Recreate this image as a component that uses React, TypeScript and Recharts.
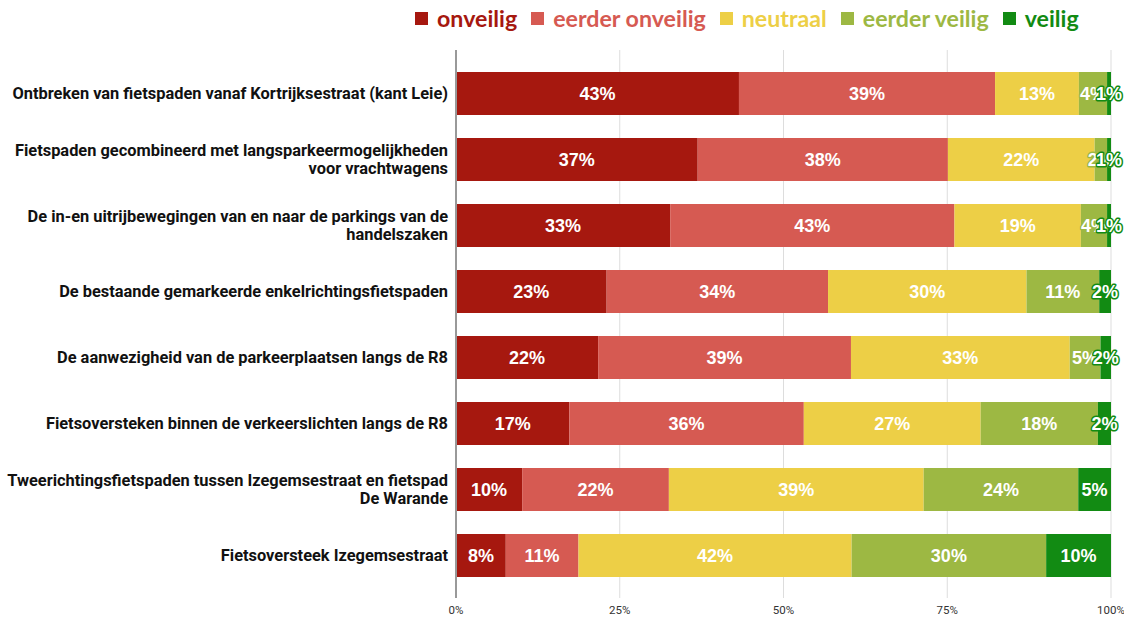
import React from "react";
import { BarChart, Bar, XAxis, YAxis, CartesianGrid, Legend, LabelList } from "recharts";

const categories = [
  "Ontbreken van fietspaden vanaf Kortrijksestraat (kant Leie)",
  "Fietspaden gecombineerd met langsparkeermogelijkheden\nvoor vrachtwagens",
  "De in-en uitrijbewegingen van en naar de parkings van de\nhandelszaken",
  "De bestaande gemarkeerde enkelrichtingsfietspaden",
  "De aanwezigheid van de parkeerplaatsen langs de R8",
  "Fietsoversteken binnen de verkeerslichten langs de R8",
  "Tweerichtingsfietspaden tussen Izegemsestraat en fietspad\nDe Warande",
  "Fietsoversteek Izegemsestraat",
];

const onveilig = [43.2, 36.9, 32.7, 23.0, 21.7, 17.3, 10.1, 7.6];
const eerderOnveilig = [39.1, 38.2, 43.4, 33.8, 38.6, 35.8, 22.4, 11.1];
const neutraal = [12.8, 22.4, 19.3, 30.3, 33.4, 27.0, 38.9, 41.7];
const eerderVeilig = [4.3, 1.9, 4.0, 11.1, 4.7, 17.9, 23.6, 29.7];
const veilig = [0.6, 0.6, 0.6, 1.8, 1.6, 2.0, 5.0, 9.9];

const xTicks = [0, 25, 50, 75, 100];

const seriesNames = ["onveilig", "eerder onveilig", "neutraal", "eerder veilig", "veilig"];
const seriesKeys = ["onveilig", "eerderOnveilig", "neutraal", "eerderVeilig", "veilig"];
const seriesColors = ["#a6180f", "#d65a52", "#edcf46", "#9db843", "#128b13"];
const seriesValues = [onveilig, eerderOnveilig, neutraal, eerderVeilig, veilig];

const data = categories.map((c, i) => {
  const row: any = { category: c };
  seriesKeys.forEach((k, j) => {
    row[k] = seriesValues[j][i];
  });
  return row;
});

const CategoryTick = (props: any) => {
  const { x, y, payload } = props;
  const lines: string[] = String(payload.value).split("\n");
  const lh = 18;
  const start = -((lines.length - 1) * lh) / 2;
  return (
    <text
      x={x}
      y={y}
      textAnchor="end"
      fill="#111"
      fontFamily="Roboto"
      fontWeight={700}
      fontSize={16.4}
    >
      {lines.map((l, i) => (
        <tspan key={i} x={x} y={y + start + i * lh} dy="0.355em">
          {l}
        </tspan>
      ))}
    </text>
  );
};

const makeLabel = (color: string) => (props: any) => {
  const { x, y, width, height, value } = props;
  const cx = Number(x) + Number(width) / 2;
  const cy = Number(y) + Number(height) / 2;
  return (
    <text
      x={cx}
      y={cy}
      dy="0.355em"
      textAnchor="middle"
      fill="#ffffff"
      stroke={color}
      strokeWidth={3}
      strokeLinejoin="round"
      paintOrder="stroke"
      fontFamily="Liberation Sans"
      fontWeight={700}
      fontSize={18}
    >
      {Math.round(Number(value)) + "%"}
    </text>
  );
};

const LegendContent = () => {
  return (
    <div
      style={{
        height: 50,
        display: "flex",
        alignItems: "flex-start",
        paddingLeft: 415,
        paddingTop: 3,
        boxSizing: "border-box",
        fontFamily: "Lato",
        fontWeight: 700,
        fontSize: 23.2,
        lineHeight: "30px",
      }}
    >
      {seriesNames.map((n, i) => (
        <div key={i} style={{ display: "flex", alignItems: "center", marginRight: 14 }}>
          <span
            style={{
              display: "inline-block",
              width: 13,
              height: 13,
              background: seriesColors[i],
              marginRight: 9,
            }}
          />
          <span style={{ color: seriesColors[i] }}>{n}</span>
        </div>
      ))}
    </div>
  );
};

export default function App() {
  return (
    <div style={{ position: "absolute", left: 0, top: 0, background: "#fff" }}>
      <BarChart
        width={1124}
        height={617}
        data={data}
        layout="vertical"
        margin={{ top: 0, right: 13, bottom: 0, left: 0 }}
        barSize={43}
      >
        <Legend verticalAlign="top" align="left" content={<LegendContent />} />
        <CartesianGrid horizontal={false} stroke="#dddddd" />
        <XAxis
          type="number"
          domain={[0, 100]}
          ticks={xTicks}
          tickFormatter={(v: number) => v + "%"}
          axisLine={false}
          tickLine={false}
          height={19}
          interval={0}
          tick={{ fill: "#333", fontSize: 11.5, fontFamily: "Roboto" }}
          allowDataOverflow
        />
        <YAxis
          type="category"
          dataKey="category"
          width={456}
          axisLine={{ stroke: "#999", strokeWidth: 2 }}
          tickLine={false}
          tick={<CategoryTick />}
          interval={0}
          padding={{ top: 10, bottom: 10 }}
        />
        {seriesKeys.map((k, j) => (
          <Bar
            key={k}
            dataKey={k}
            name={seriesNames[j]}
            stackId="a"
            fill={seriesColors[j]}
            isAnimationActive={false}
          >
            <LabelList dataKey={k} content={makeLabel(seriesColors[j])} />
          </Bar>
        ))}
      </BarChart>
    </div>
  );
}
